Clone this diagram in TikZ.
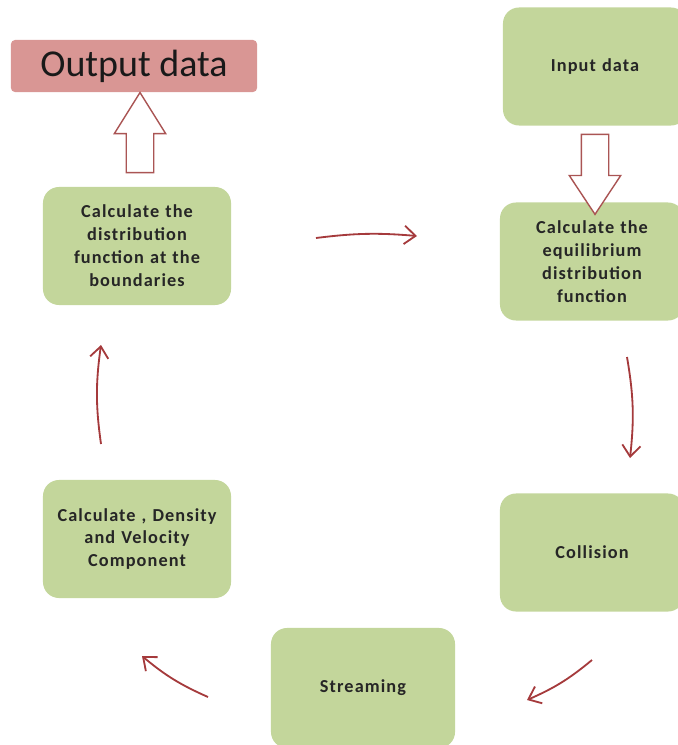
\documentclass[tikz,border=0pt]{standalone}
\usepackage{fontspec}
\setmainfont{Carlito}
\newfontfamily\boxfont{Carlito}[LetterSpace=6]
\usepackage{xcolor}
\usepackage{tikz}
\usetikzlibrary{arrows.meta,shapes.arrows}

\definecolor{boxgreen}{RGB}{195,214,155}
\definecolor{boxpink}{RGB}{217,150,148}
\definecolor{arrowred}{RGB}{165,58,60}
\definecolor{hollowred}{RGB}{170,85,84}

\begin{document}
\begin{tikzpicture}[x=0.025cm, y=-0.025cm,
        stepbox/.style={shape=rectangle, rounded corners=0.4cm, fill=boxgreen, align=center,
            text=black!85, font=\boxfont\bfseries\fontsize{13}{16.3}\selectfont,
            minimum width=4.6cm, minimum height=2.95cm, text width=4.3cm},
        outbox/.style={shape=rectangle, rounded corners=0.1cm, fill=boxpink, text=black!90,
            font=\fontsize{27}{30}\selectfont, minimum width=6.15cm, minimum height=1.3cm},
        hollow/.style={shape=single arrow, draw=hollowred, fill=white, line width=1pt,
            inner sep=0.325cm, single arrow head extend=0.3cm, minimum height=2cm},
        flow/.style={draw=arrowred, line width=1.3pt, -{Straight Barb[length=8pt,width=13pt]}}]
        \useasboundingbox (0, 0) rectangle (678, 745);

        \node[outbox] (O) at (134, 66) {Output data};
        \node[stepbox] (I) at (595, 66.5) {Input data};
        \node[stepbox] (E) at (592, 261.5) {Calculate the\\ equilibrium\\ distribution\\ function};
        \node[stepbox, minimum width=4.7cm] (B) at (137, 246) {Calculate the\\ distribution\\ function at the\\ boundaries};
        \node[stepbox, minimum width=4.7cm] (D) at (137, 539) {Calculate , Density\\ and Velocity\\ Component};
        \node[stepbox] (C) at (592, 552.5) {Collision};
        \node[stepbox, minimum height=3cm] (S) at (363, 688) {Streaming};

        % hollow block arrows
        \node[hollow, rotate=90, single arrow tip angle=64] (up) at (140, 143.5) {};
        \node[hollow, rotate=-90, single arrow tip angle=67] (down) at (595, 164) {};

        % cycle arrows
        \coordinate (b1) at (316, 238);
        \coordinate (e1) at (417, 236);
        \coordinate (e2) at (627, 357);
        \coordinate (c1) at (630, 458);
        \coordinate (c2) at (592, 660);
        \coordinate (s1) at (527, 700);
        \coordinate (s2) at (208, 697);
        \coordinate (d1) at (142, 656);
        \coordinate (d2) at (101, 444);
        \coordinate (b2) at (101, 345);

        \draw [flow] (b1) to[bend left=6] (e1);
        \draw [flow] (e2) to[bend left=8] (c1);
        \draw [flow] (c2) to[bend left=8] (s1);
        \draw [flow] (s2) to[bend left=8] (d1);
        \draw [flow] (d2) to[bend left=8] (b2);
    \end{tikzpicture}
\end{document}
